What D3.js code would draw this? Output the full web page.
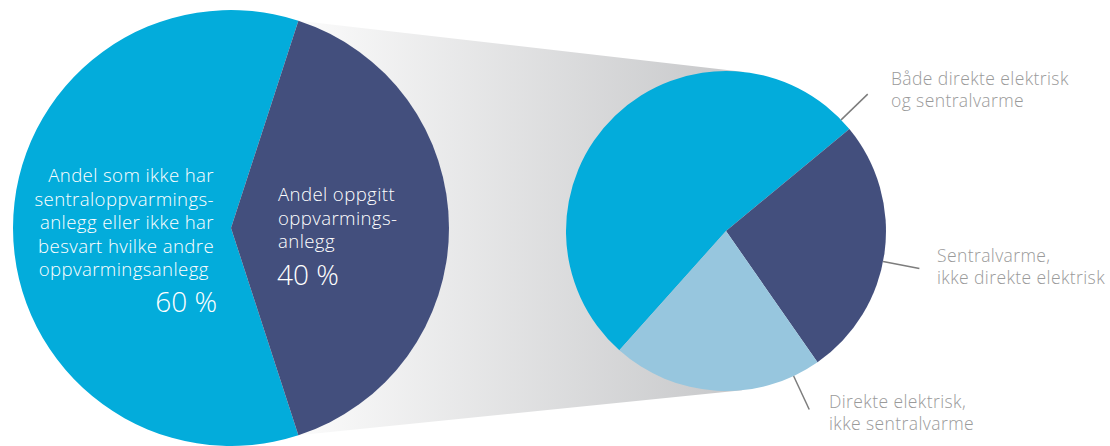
<!DOCTYPE html>
<html lang="no">
<head>
<meta charset="utf-8">
<script src="https://cdn.jsdelivr.net/npm/d3@7"></script>
<style>
  html, body { margin: 0; padding: 0; background: #ffffff; }
  svg { display: block; }
  text { font-family: "Open Sans", "Noto Sans", sans-serif; }
</style>
</head>
<body>
<svg id="chart" width="1110" height="446"></svg>
<script>
// Overview: share of buildings that reported a heating system
const overviewCategories = ["Andel som ikke har sentraloppvarmingsanlegg eller ikke har besvart hvilke andre oppvarmingsanlegg", "Andel oppgitt oppvarmingsanlegg"];
const overviewValues = [60, 40];
const overviewLabelLines = [
  ["Andel som ikke har", "sentraloppvarmings-", "anlegg eller ikke har", "besvart hvilke andre", "oppvarmingsanlegg "],
  ["Andel oppgitt", "oppvarmings-", "anlegg"]
];

// Breakdown of the 40 % that reported a heating system
const detailCategories = ["Både direkte elektrisk og sentralvarme", "Sentralvarme, ikke direkte elektrisk", "Direkte elektrisk, ikke sentralvarme"];
const detailValues = [52.4, 26.3, 21.3];
const detailLabelLines = [
  ["Både direkte elektrisk", "og sentralvarme"],
  ["Sentralvarme,", "ikke direkte elektrisk"],
  ["Direkte elektrisk,", "ikke sentralvarme"]
];

const colors = { cyan: "#03acdb", navy: "#434f7d", pale: "#97c6de", label: "#9a9a9a", leader: "#7d7d7d" };
const overviewColors = [colors.cyan, colors.navy];
const detailColors = [colors.cyan, colors.navy, colors.pale];

const deg = Math.PI / 180;
const svg = d3.select("#chart");

// Geometry of the two pies
const big = { cx: 231, cy: 228, r: 218 };
const small = { cx: 726, cy: 231, r: 160 };

const bigPie = d3.pie().sort(null).startAngle(162 * deg).endAngle(522 * deg)(overviewValues);
const smallPie = d3.pie().sort(null).startAngle(-138.2 * deg).endAngle(221.8 * deg)(detailValues);

// point on a circle at a d3 pie angle (clockwise from 12 o'clock)
const polar = (c, r, a) => [c.cx + r * Math.sin(a), c.cy - r * Math.cos(a)];

// Connector band: from the ends of the highlighted slice to the tangents of the small pie
const hl = bigPie[1];
const pTop = polar(big, big.r, hl.startAngle);
const pBot = polar(big, big.r, hl.endAngle);
function tangentPoint(p, upper) {
  const dx = small.cx - p[0], dy = small.cy - p[1];
  const d = Math.hypot(dx, dy);
  const base = Math.atan2(dy, dx);
  const off = Math.asin(small.r / d);
  const a = upper ? base - off : base + off;
  const len = Math.sqrt(d * d - small.r * small.r);
  return [p[0] + len * Math.cos(a), p[1] + len * Math.sin(a)];
}
const tTop = tangentPoint(pTop, true);
const tBot = tangentPoint(pBot, false);

const defs = svg.append("defs");
const grad = defs.append("linearGradient")
  .attr("id", "band")
  .attr("gradientUnits", "userSpaceOnUse")
  .attr("x1", pTop[0]).attr("y1", 0)
  .attr("x2", tTop[0]).attr("y2", 0);
grad.append("stop").attr("offset", 0).attr("stop-color", "#fbfbfb");
grad.append("stop").attr("offset", 1).attr("stop-color", "#c6c7c9");

svg.append("path")
  .attr("d", d3.line()([pTop, tTop, [small.cx, small.cy], tBot, pBot]) + "Z")
  .attr("fill", "url(#band)");

// Big pie
const bigArc = d3.arc().innerRadius(0).outerRadius(big.r);
const gBig = svg.append("g").attr("transform", `translate(${big.cx},${big.cy})`);
gBig.selectAll("path").data(bigPie).join("path")
  .attr("d", bigArc)
  .attr("fill", (d, i) => overviewColors[i]);

// Small pie
const smallArc = d3.arc().innerRadius(0).outerRadius(small.r);
const gSmall = svg.append("g").attr("transform", `translate(${small.cx},${small.cy})`);
gSmall.selectAll("path").data(smallPie).join("path")
  .attr("d", smallArc)
  .attr("fill", (d, i) => detailColors[i]);

// Labels inside the big pie
const fmtPct = v => `${d3.format("d")(v)} %`;
const inside = [
  { x: 214, y: 182, anchor: "end", pctX: 217, pctY: 312 },
  { x: 278, y: 201, anchor: "start", pctX: 277, pctY: 285 }
];
inside.forEach((pos, i) => {
  const t = svg.append("text")
    .attr("fill", "#ffffff")
    .attr("font-size", 18.6)
    .attr("letter-spacing", 0.4)
    .attr("font-weight", 300)
    .attr("text-anchor", pos.anchor)
    .attr("xml:space", "preserve");
  overviewLabelLines[i].forEach((line, j) => {
    t.append("tspan").attr("x", pos.x).attr("y", pos.y + j * 23.6).text(line);
  });
  svg.append("text")
    .attr("x", pos.pctX).attr("y", pos.pctY)
    .attr("fill", "#ffffff")
    .attr("font-size", 28)
    .attr("font-weight", 300)
    .attr("text-anchor", pos.anchor)
    .text(fmtPct(overviewValues[i]));
});

// Leader lines and labels for the small pie
const leaders = [
  { angle: 46, x: 891, y: 85 },
  { angle: 101, x: 937, y: 262 },
  { angle: 155, x: 829, y: 408 }
];
leaders.forEach((l, i) => {
  const a = l.angle * deg;
  const p0 = polar(small, small.r, a);
  const p1 = polar(small, small.r + 37, a);
  svg.append("line")
    .attr("x1", p0[0]).attr("y1", p0[1])
    .attr("x2", p1[0]).attr("y2", p1[1])
    .attr("stroke", colors.leader)
    .attr("stroke-width", 1.5);
  const t = svg.append("text")
    .attr("fill", colors.label)
    .attr("font-size", 17.5)
    .attr("letter-spacing", 0.4)
    .attr("font-weight", 300);
  detailLabelLines[i].forEach((line, j) => {
    t.append("tspan").attr("x", l.x).attr("y", l.y + j * 22).text(line);
  });
});
</script>
</body>
</html>
